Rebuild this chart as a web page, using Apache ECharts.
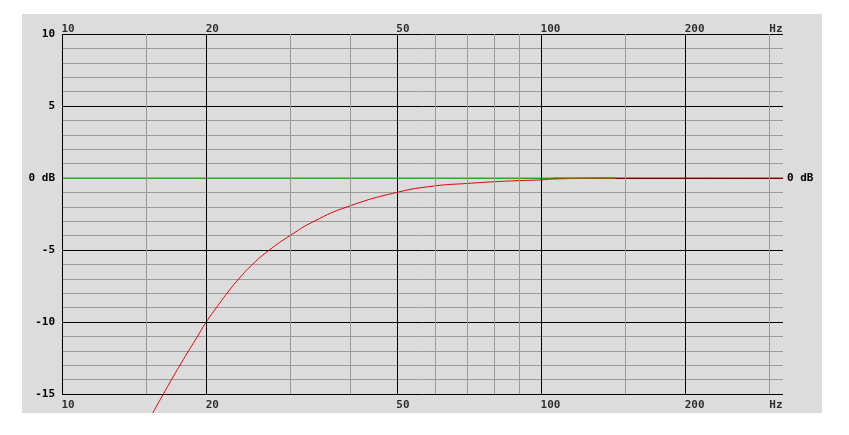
<!DOCTYPE html>
<html>
<head>
<meta charset="utf-8">
<script src="https://cdn.jsdelivr.net/npm/echarts@6/dist/echarts.min.js"></script>
<style>
html,body{margin:0;padding:0;background:#ffffff;width:849px;height:435px;overflow:hidden;}
#panel{position:absolute;left:22px;top:14px;width:800px;height:399px;background:#dcdcdc;}
</style>
</head>
<body>
<div id="panel"></div>
<script>
// ---- data ----
const xMin = 10, xMax = 320;
const yMin = -15, yMax = 10;
const xLabelValues = [10, 20, 50, 100, 200];
const xUnitLabel = 'Hz';
const xMajorGrid = [10, 20, 50, 100, 200];
const xMinorGrid = [15, 30, 40, 60, 70, 80, 90, 150, 300];

// reference (green) line
const greenFreq = [10, 106];
const greenDb = [0, 0];
// overlapping section (olive)
const oliveFreq = [106, 143];
const oliveDb = [0, 0];
// response (red)
const redFreq = [15.19, 15.48, 16.28, 16.93, 17.63, 18.38, 19.18, 20.0, 21.01, 22.11, 23.40, 24.98, 27.10, 29.92, 33.62, 39.41, 50.0, 60.0, 70.0, 80.0, 90.0, 100.0, 106.0, 143.0, 200.0, 320.0];
const redDb   = [-16.8, -16.3, -15.0, -14.0, -13.0, -12.0, -11.0, -10.0, -9.0, -8.0, -7.0, -6.0, -5.0, -4.0, -3.0, -2.0, -1.0, -0.55, -0.38, -0.26, -0.18, -0.13, -0.07, 0, 0, 0];

// ---- build ----
const zip = (a, b) => a.map((v, i) => [v, b[i]]);
const FONT = { fontFamily: 'DejaVu Sans Mono', fontWeight: 'bold', fontSize: 11, color: '#000' };

const gridLines = [];
xMinorGrid.forEach(v => gridLines.push({ xAxis: v, lineStyle: { color: '#9a9a9a', width: 1, type: 'solid' } }));
xMajorGrid.forEach(v => gridLines.push({ xAxis: v, lineStyle: { color: '#000000', width: 1, type: 'solid' } }));

const topLabels = xLabelValues.map(v => ({ value: [v, yMax], name: String(v) }));
topLabels.push({ value: [xMax, yMax], name: xUnitLabel, label: { align: 'right' } });
const bottomLabels = xLabelValues.map(v => ({ value: [v, yMin], name: String(v) }));
bottomLabels.push({ value: [xMax, yMin], name: xUnitLabel, label: { align: 'right' } });

const chart = echarts.init(document.getElementById('panel'), null, { renderer: 'canvas' });
chart.setOption({
  animation: false,
  backgroundColor: 'transparent',
  grid: { left: 40, top: 20, right: 39, bottom: 19 },
  xAxis: {
    type: 'log', logBase: 10, min: xMin, max: xMax,
    axisLine: { show: false }, axisTick: { show: false }, axisLabel: { show: false },
    splitLine: { show: false }, minorSplitLine: { show: false }
  },
  yAxis: [{
    type: 'value', min: yMin, max: yMax, interval: 5, position: 'left',
    axisLine: { show: false }, axisTick: { show: false },
    axisLabel: Object.assign({ margin: 7, formatter: v => v === 0 ? '0 dB' : String(v) }, FONT),
    splitLine: { show: true, lineStyle: { color: '#000', width: 1 } },
    minorTick: { show: false, splitNumber: 5 },
    minorSplitLine: { show: true, lineStyle: { color: '#9a9a9a', width: 1 } }
  }, {
    type: 'value', min: yMin, max: yMax, interval: 5, position: 'right',
    axisLine: { show: false }, axisTick: { show: false },
    axisLabel: Object.assign({ margin: 4, formatter: v => v === 0 ? '0 dB' : '' }, FONT),
    splitLine: { show: false }
  }],
  series: [
    {
      type: 'line', data: [[xMin, 0], [xMax, 0]], showSymbol: false, silent: true, z: 1,
      lineStyle: { opacity: 0 },
      markLine: { silent: true, symbol: ['none', 'none'], label: { show: false }, animation: false, data: gridLines }
    },
    {
      type: 'line', data: zip(greenFreq, greenDb), showSymbol: false, silent: true, z: 3,
      lineStyle: { color: '#3ddc3d', width: 1.5 }
    },
    {
      type: 'line', data: zip(redFreq, redDb), showSymbol: false, silent: true, z: 4, smooth: 0.5, clip: false,
      lineStyle: { color: '#e00000', width: 1 }
    },
    {
      type: 'line', data: zip(oliveFreq, oliveDb), showSymbol: false, silent: true, z: 5,
      lineStyle: { color: '#8a7800', width: 1.5 }
    },
    {
      type: 'scatter', data: topLabels, symbolSize: 1, silent: true, clip: false, z: 6,
      itemStyle: { color: 'rgba(0,0,0,0)' },
      label: Object.assign({ show: true, formatter: '{b}', position: [0, 1], align: 'left', verticalAlign: 'bottom' }, FONT)
    },
    {
      type: 'scatter', data: bottomLabels, symbolSize: 1, silent: true, clip: false, z: 6,
      itemStyle: { color: 'rgba(0,0,0,0)' },
      label: Object.assign({ show: true, formatter: '{b}', position: [0, 6], align: 'left', verticalAlign: 'top' }, FONT)
    }
  ]
});
</script>
</body>
</html>
